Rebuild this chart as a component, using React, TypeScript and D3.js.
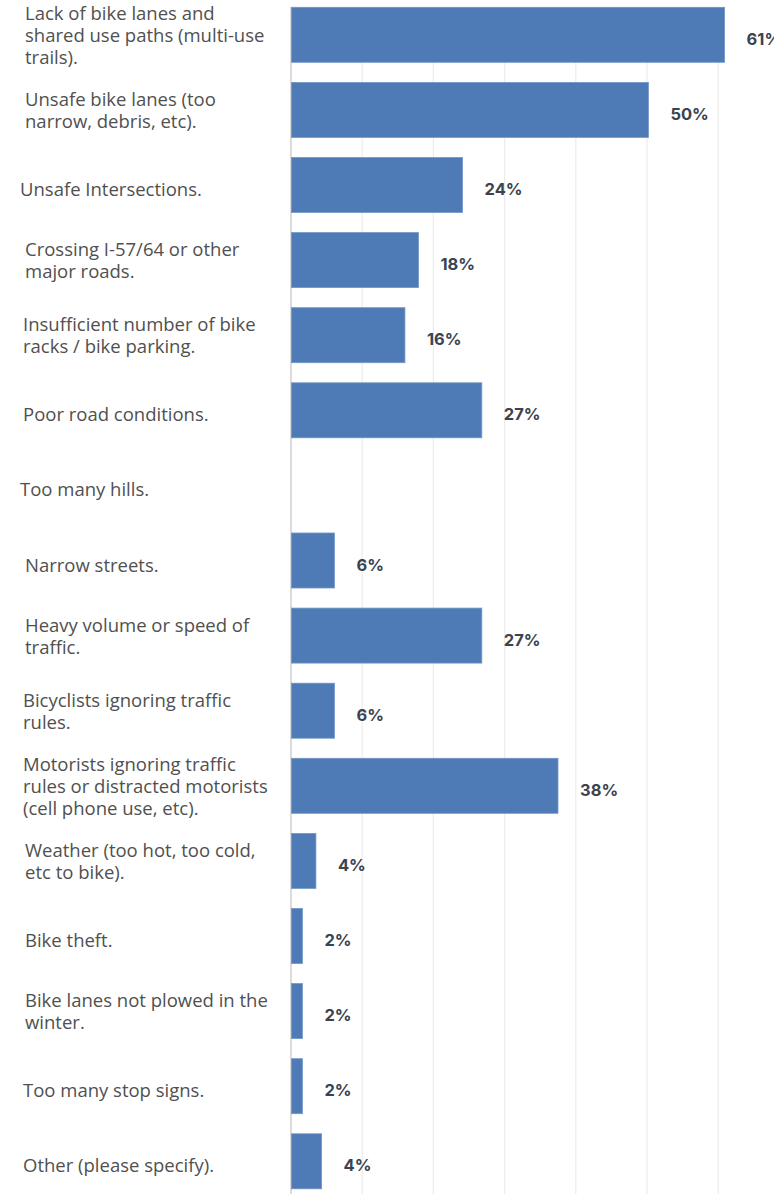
import React from "react";
import * as d3 from "d3";

// ---- data ----
const labelLines: string[][] = [
  ["Lack of bike lanes and", "shared use paths (multi-use", "trails)."],
  ["Unsafe bike lanes (too", "narrow, debris, etc)."],
  ["Unsafe Intersections."],
  ["Crossing I-57/64 or other", "major roads."],
  ["Insufficient number of bike", "racks / bike parking."],
  ["Poor road conditions."],
  ["Too many hills."],
  ["Narrow streets."],
  ["Heavy volume or speed of", "traffic."],
  ["Bicyclists ignoring traffic", "rules."],
  ["Motorists ignoring traffic", "rules or distracted motorists", "(cell phone use, etc)."],
  ["Weather (too hot, too cold,", "etc to bike)."],
  ["Bike theft."],
  ["Bike lanes not plowed in the", "winter."],
  ["Too many stop signs."],
  ["Other (please specify)."],
];
const categories: string[] = labelLines.map((l) => l.join(" "));
const values: number[] = [60.9, 50.2, 24.1, 17.9, 16.0, 26.8, 0, 6.1, 26.8, 6.1, 37.5, 3.5, 1.6, 1.6, 1.6, 4.3];
const valueLabels: string[] = ["61%", "50%", "24%", "18%", "16%", "27%", "", "6%", "27%", "6%", "38%", "4%", "2%", "2%", "2%", "4%"];
const ticks: number[] = [0, 10, 20, 30, 40, 50, 60, 70];

// ---- style (kept separate from data) ----
const labelIndent: number[] = [25, 25, 20, 25, 23, 23, 20, 25, 25, 23, 23, 25, 25, 25, 23, 23];

const W = 774;
const H = 1194;

export default function App() {
  const x = d3.scaleLinear().domain([0, 70]).range([291, 291 + 7 * 71.2]);
  const step = 75.1;
  const pad = 20.1 / step;
  const y0 = 7.3 - (step * pad) / 2;
  const y = d3
    .scaleBand<string>()
    .domain(categories)
    .range([y0, y0 + categories.length * step])
    .paddingInner(pad)
    .paddingOuter(pad / 2);

  const lineH = 22;

  return (
    <svg
      width={W}
      height={H}
      style={{ position: "absolute", left: 0, top: 0, background: "#fff" }}
    >
      {/* grid lines */}
      {ticks.map((t) => (
        <line
          key={t}
          x1={x(t)}
          x2={x(t)}
          y1={7}
          y2={H}
          stroke={t === 0 ? "#cfcfcf" : "#ececec"}
          strokeWidth={t === 0 ? 1.5 : 1.2}
        />
      ))}
      {/* bars */}
      {categories.map((c, i) =>
        values[i] > 0 ? (
          <rect
            key={c}
            x={x(0) + 0.5}
            y={y(c)!}
            width={x(values[i]) - x(0) - 0.5}
            height={y.bandwidth()}
            fill="#4e7bb6"
            stroke="#7196c7"
            strokeWidth={0.8}
          />
        ) : null
      )}
      {/* value labels */}
      {categories.map((c, i) =>
        valueLabels[i] ? (
          <text
            key={"v" + c}
            x={x(values[i]) + 22}
            y={y(c)! + y.bandwidth() / 2 + 4}
            dominantBaseline="central"
            fontFamily="Inter, 'Noto Sans', sans-serif"
            fontWeight={700}
            fontSize={16.5}
            fill="#3b4350"
          >
            {valueLabels[i]}
          </text>
        ) : null
      )}
      {/* category labels */}
      {categories.map((c, i) => {
        const lines = labelLines[i];
        const cy = y(c)! + y.bandwidth() / 2;
        const k = lines.length === 1 ? 11 : 7;
        const firstBase = cy - ((lines.length - 1) * lineH) / 2 + k;
        return (
          <text
            key={"l" + c}
            x={labelIndent[i]}
            fontFamily="'Open Sans', 'Noto Sans', sans-serif"
            fontSize={18.5}
            fill="#505050"
          >
            {lines.map((ln, j) => (
              <tspan key={j} x={labelIndent[i]} y={firstBase + j * lineH}>
                {ln}
              </tspan>
            ))}
          </text>
        );
      })}
    </svg>
  );
}
